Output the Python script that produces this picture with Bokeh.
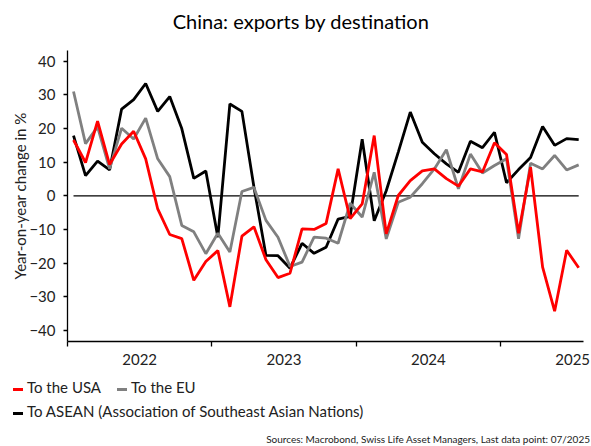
from bokeh.plotting import figure
from bokeh.layouts import column
from bokeh.models import FixedTicker, Range1d, Label, Div
from bokeh.embed import file_html
from bokeh.resources import INLINE

# ---- data -------------------------------------------------------------
months = [f"{y}-{m:02d}" for y in (2022, 2023, 2024, 2025) for m in range(1, 13)][:43]

usa = [16.6, 9.9, 22.2, 9.3, 15.4, 19.2, 11.0, -3.9, -11.5, -12.7,
       -25.1, -19.5, -16.3, -33.0, -12.0, -9.2, -19.0, -24.3, -23.0, -9.8,
       -10.0, -8.2, 8.0, -6.8, -2.4, 17.9, -11.3, 0.1, 4.5, 7.4,
       8.0, 5.1, 2.9, 8.0, 7.1, 15.8, 12.3, -11.1, 8.5, -21.2,
       -34.3, -16.2, -21.4]

eu = [31.0, 15.5, 20.5, 8.0, 20.1, 16.9, 23.1, 11.0, 5.7, -8.8,
      -10.7, -17.2, -11.1, -16.7, 1.3, 2.5, -7.3, -12.3, -21.0, -19.7,
      -12.3, -12.6, -14.1, -2.2, -6.3, 7.0, -12.8, -1.9, -0.4, 3.6,
      8.0, 13.7, 2.1, 12.4, 6.8, 9.0, 11.0, -12.8, 9.7, 8.0,
      12.0, 7.7, 9.2]

asean = [17.9, 6.0, 10.3, 7.7, 25.8, 28.6, 33.4, 25.1, 29.5, 20.0,
         5.2, 7.4, -12.3, 27.3, 25.1, 2.6, -17.7, -17.8, -21.5, -14.1,
         -17.1, -15.3, -6.9, -6.1, 16.8, -7.4, 1.5, 13.0, 24.9, 15.9,
         12.5, 9.5, 7.0, 16.2, 14.3, 18.9, 3.9, 7.8, 11.4, 20.6,
         15.0, 17.0, 16.7]

years = [2022, 2023, 2024, 2025]
year_labels = ["2022", "2023", "2024", "2025"]
y_ticks = [-40, -30, -20, -10, 0, 10, 20, 30, 40]

series_names = ["To the USA", "To the EU",
                "To ASEAN (Association of Southeast Asian Nations)"]
series_colors = ["#ff0000", "#808080", "#000000"]
title_text = "China: exports by destination"
y_title = "Year-on-year change in %"
source_text = "Sources: Macrobond, Swiss Life Asset Managers, Last data point: 07/2025"

# x position: middle of each month, in decimal years
x = [int(s[:4]) + (int(s[5:]) - 0.5) / 12 for s in months]

FONT = "Lato"
TXT = "#222222"
W = 591
BL, BR = 67, 8          # left / right borders of every plot frame
FW = W - BL - BR
LW = 2.8

# ---- title strip ---------------------------------------------------------
top = figure(width=W, height=48, output_backend="svg", toolbar_location=None,
             x_range=Range1d(0, FW), y_range=Range1d(0, 48),
             x_axis_type=None, y_axis_type=None,
             min_border_left=BL, min_border_right=BR, min_border_top=0,
             min_border_bottom=0)
top.outline_line_color = None
top.grid.visible = False
top.add_layout(Label(x=233.5, y=28, text=title_text, text_align="center",
                     text_baseline="middle", text_font=FONT,
                     text_font_size="20px", text_color="black"))

# ---- main chart --------------------------------------------------------
p = figure(width=W, height=329, output_backend="svg", toolbar_location=None,
           x_range=Range1d(2022.0, 2025.575), y_range=Range1d(-43.3, 43.2),
           min_border_left=BL, min_border_right=BR, min_border_top=2,
           min_border_bottom=36)
p.outline_line_color = None
p.grid.visible = False

# zero line across the data span
p.line([x[0], x[-1]], [0, 0], line_color="black", line_width=1.3)

p.line(x, asean, line_color=series_colors[2], line_width=LW)
p.line(x, eu, line_color=series_colors[1], line_width=LW)
p.line(x, usa, line_color=series_colors[0], line_width=LW)

# x axis: labels in the middle of each year, ticks at year boundaries
xa = p.xaxis[0]
xa.ticker = FixedTicker(ticks=[yr + 0.5 for yr in years], minor_ticks=years)
xa.major_label_overrides = {yr + 0.5: lab for yr, lab in zip(years, year_labels)}
xa.major_tick_out = 0
xa.major_tick_in = 0
xa.minor_tick_out = 5
xa.minor_tick_in = 0
xa.minor_tick_line_color = "black"
xa.minor_tick_line_width = 1.3
xa.axis_line_color = "black"
xa.axis_line_width = 1.3
xa.major_label_standoff = 7
xa.major_label_text_font = FONT
xa.major_label_text_font_size = "15px"
xa.major_label_text_color = TXT

ya = p.yaxis[0]
ya.ticker = FixedTicker(ticks=y_ticks)
ya.minor_tick_line_color = None
ya.major_tick_out = 4
ya.major_tick_in = 0
ya.major_tick_line_color = "black"
ya.major_tick_line_width = 1.3
ya.axis_line_color = "black"
ya.axis_line_width = 1.3
ya.major_label_standoff = 8
ya.major_label_text_font = FONT
ya.major_label_text_font_size = "15px"
ya.major_label_text_color = TXT
ya.axis_label = y_title
ya.axis_label_text_font = FONT
ya.axis_label_text_font_size = "15px"
ya.axis_label_text_font_style = "normal"
ya.axis_label_text_color = TXT
ya.axis_label_standoff = -3

# ---- legend + source strip ----------------------------------------------
def key(color, gap):
    return (f'<span style="display:inline-block;width:10px;height:3px;'
            f'background:{color};vertical-align:middle;'
            f'margin:0 4px 0 {gap}px"></span>')

row_style = ("position:absolute;left:13px;height:20px;line-height:20px;"
             f"font-family:{FONT};font-size:15px;color:{TXT};white-space:nowrap;")
html = (
    f'<div style="position:relative;width:{W}px;height:69px;overflow:hidden;">'
    f'<div style="{row_style}top:0px;">'
    f'{key(series_colors[0], 0)}{series_names[0]}'
    f'{key(series_colors[1], 16)}{series_names[1]}</div>'
    f'<div style="{row_style}top:24px;">'
    f'{key(series_colors[2], 0)}{series_names[2]}</div>'
    f'<div style="position:absolute;right:1px;top:55px;height:14px;'
    f'line-height:14px;font-family:{FONT};font-size:10px;color:{TXT};'
    f'white-space:nowrap;">{source_text}</div>'
    '</div>'
)
bot = Div(text=html, width=W, height=69, margin=0)

layout = column(top, p, bot, spacing=0)
open("out.html", "w").write(file_html(layout, INLINE))
